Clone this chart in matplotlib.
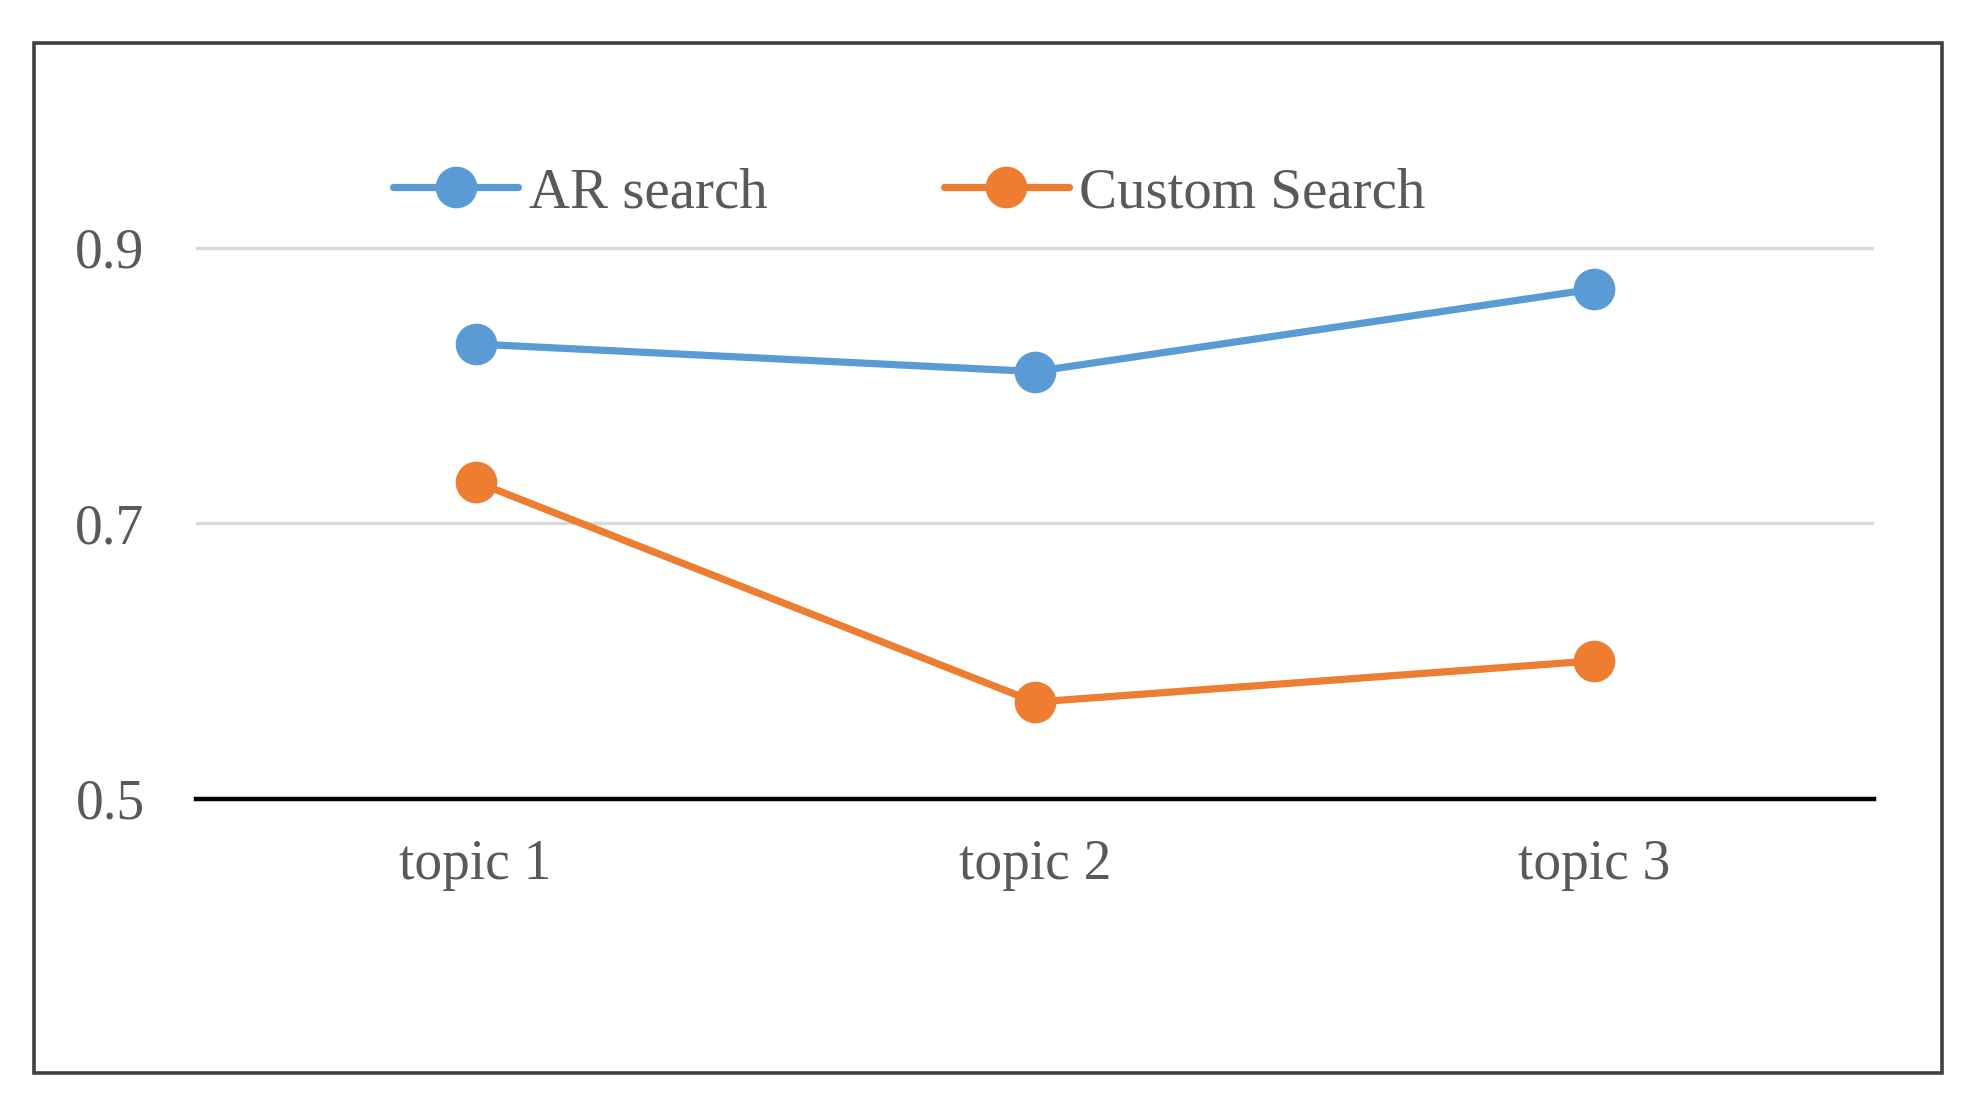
import matplotlib
matplotlib.use("Agg")
import matplotlib.pyplot as plt
from matplotlib.patches import Rectangle

categories = ["topic 1", "topic 2", "topic 3"]
ar_search = [0.83, 0.81, 0.87]
custom_search = [0.73, 0.57, 0.60]
y_ticks = [0.5, 0.7, 0.9]
series_names = ["AR search", "Custom Search"]

plt.rcParams['font.family'] = ['Liberation Serif', 'DejaVu Serif']

fig = plt.figure(figsize=(19.81, 10.94), dpi=100)
W, H = 1981, 1094
ax = fig.add_axes([196 / W, 1 - 798.5 / H, (1874 - 196) / W, (798.5 - 109.9) / H])

x = list(range(len(categories)))
ax.plot(x, ar_search, color="#5B9BD5", lw=5.2, marker="o", ms=29,
        label=series_names[0], zorder=3, solid_capstyle="round")
ax.plot(x, custom_search, color="#ED7D31", lw=5.2, marker="o", ms=29,
        label=series_names[1], zorder=3, solid_capstyle="round")

ax.set_xlim(-0.5, 2.5)
ax.set_ylim(0.5, 1.0)
ax.set_yticks(y_ticks)
ax.set_yticklabels([f"{v:.1f}" for v in y_ticks])
ax.set_xticks(x)
ax.set_xticklabels(categories)

for v in y_ticks[1:]:
    ax.axhline(v, color="#D9D9D9", lw=2.4, zorder=1)
ax.axhline(0.5, color="black", lw=3.2, zorder=2, clip_on=False)

for s in ax.spines.values():
    s.set_visible(False)
ax.tick_params(axis="both", length=0, labelsize=40, labelcolor="#595959")
ax.tick_params(axis="y", pad=37)
ax.tick_params(axis="x", pad=29)

leg = ax.legend(loc="center left", bbox_to_anchor=(393 / W, 1 - 193 / H),
                bbox_transform=fig.transFigure, ncol=2, frameon=False,
                fontsize=41, handlelength=2.2, handletextpad=0.18,
                columnspacing=3.1, borderpad=0, borderaxespad=0, numpoints=1)
for t in leg.get_texts():
    t.set_color("#595959")

fig.patches.append(Rectangle((34 / W, 1 - 1073 / H), (1942 - 34) / W, (1073 - 42.5) / H,
                             transform=fig.transFigure, fill=False,
                             edgecolor="#404040", lw=2.6, zorder=10))

fig.savefig("out.png", dpi=100, facecolor="white")
